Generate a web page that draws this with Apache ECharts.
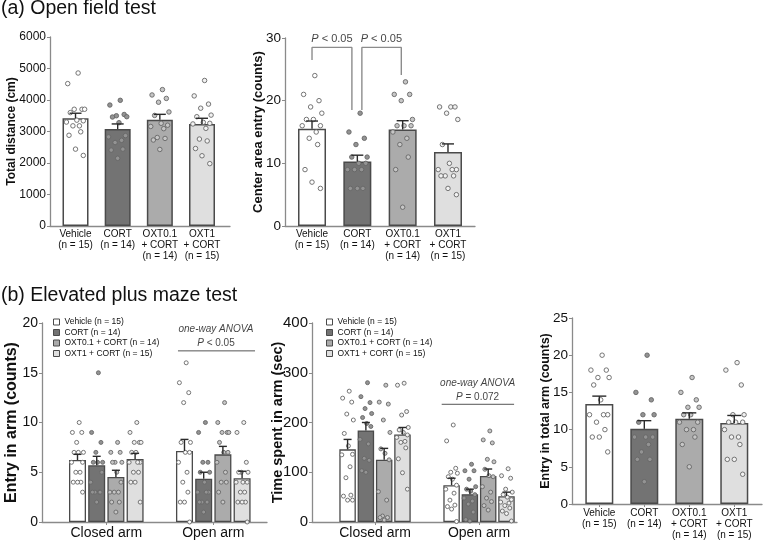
<!DOCTYPE html>
<html>
<head>
<meta charset="utf-8">
<script src="https://cdn.jsdelivr.net/npm/echarts@6/dist/echarts.min.js"></script>
<style>
  html, body { margin: 0; padding: 0; background: #fff; }
  #main { width: 764px; height: 541px; }
</style>
</head>
<body>
<div id="main"></div>
<script>
// Group / axis labels
const groupLabels = ["Vehicle\n(n = 15)", "CORT\n(n = 14)", "OXT0.1\n+ CORT\n(n = 14)", "OXT1\n+ CORT\n(n = 15)"];
const legendNames = ["Vehicle (n = 15)", "CORT (n = 14)", "OXT0.1 + CORT (n = 14)", "OXT1 + CORT (n = 15)"];
const armLabels = ["Closed arm", "Open arm"];

// (a) Open field test
const distMean = [3420, 3080, 3375, 3240];
const distSem = [160, 160, 170, 180];
const distDots = [
  [4857, 4520, 3706, 3706, 3706, 3600, 3360, 3340, 3300, 3180, 3180, 2990, 2880, 2440, 2240],
  [3990, 3840, 3540, 3500, 3470, 3460, 3280, 2870, 2830, 2720, 2650, 2440, 2410, 2150],
  [4330, 4160, 4050, 3930, 3620, 3510, 3260, 3200, 3160, 3090, 2810, 2780, 2730, 2430],
  [4620, 4130, 3870, 3740, 3520, 3470, 3290, 3260, 3240, 3100, 2760, 2700, 2460, 2230, 1980],
];
const centerMean = [15.5, 10.3, 15.4, 11.8];
const centerSem = [1.25, 1.0, 1.4, 1.3];
const centerDots = [
  [24, 21, 20, 19, 18, 17, 17, 16, 16, 15, 14, 13, 9, 7, 6],
  [18, 15, 14, 13, 11, 11, 10, 10, 9, 9, 9, 6, 6, 6],
  [23, 21, 21, 20, 17, 16, 16, 16, 15, 14, 13, 11, 9, 3],
  [19, 19, 19, 18, 17, 13, 10, 9, 9, 9, 8, 8, 8, 6, 5],
];

// (b) Elevated plus maze test
const entryClosedMean = [6.23, 5.7, 4.52, 6.33];
const entryOpenMean = [7.13, 4.35, 6.8, 4.4];
const entryClosedSem = [0.57, 0.9, 0.68, 0.57];
const entryOpenSem = [1.17, 0.65, 0.8, 0.7];
const entryClosedDots = [
  [10, 9, 9, 8, 7, 7, 7, 6, 6, 5, 5, 4, 4, 4, 3],
  [15, 9, 8, 7, 6, 6, 6, 5, 4, 3, 3, 3, 3, 2],
  [8, 7, 7, 6, 6, 6, 5, 4, 3, 3, 3, 2, 2, 1],
  [10, 9, 8, 8, 8, 7, 7, 6, 6, 6, 5, 5, 4, 4, 2],
];
const entryOpenDots = [
  [16, 14, 13, 12, 8, 8, 7, 7, 6, 5, 4, 3, 2, 2, 0],
  [10, 9, 6, 6, 5, 5, 4, 3, 3, 3, 2, 2, 2, 1],
  [12, 10, 9, 9, 9, 8, 7, 7, 6, 5, 4, 4, 3, 2],
  [10, 9, 6, 5, 5, 5, 4, 4, 4, 3, 3, 2, 2, 2, 0],
];
const timeClosedMean = [146, 184, 125, 176];
const timeOpenMean = [74, 56, 92.5, 52];
const timeClosedSem = [20, 16, 23, 14];
const timeOpenSem = [14, 10, 14, 8];
const timeClosedDots = [
  [263, 249, 241, 217, 205, 178, 153, 136, 135, 111, 89, 54, 52, 44, 44],
  [280, 252, 240, 228, 218, 210, 198, 192, 166, 157, 128, 124, 103, 100],
  [275, 241, 237, 205, 180, 147, 138, 125, 61, 44, 12, 9, 9, 4],
  [279, 275, 222, 215, 190, 185, 180, 175, 170, 162, 160, 149, 127, 99, 66],
];
const timeOpenDots = [
  [195, 163, 108, 100, 98, 91, 86, 74, 66, 58, 44, 34, 31, 26, 1],
  [116, 103, 103, 86, 71, 66, 62, 55, 48, 42, 36, 20, 5, 2],
  [183, 165, 159, 126, 121, 106, 93, 91, 71, 60, 48, 41, 33, 24],
  [107, 93, 88, 66, 60, 55, 50, 45, 40, 38, 33, 28, 22, 17, 2],
];
const totalMean = [13.45, 10.1, 11.45, 10.9];
const totalSem = [1.05, 1.1, 0.8, 1.0];
const totalDots = [
  [20, 18, 18, 17, 17, 16, 14, 12, 12, 12, 11, 10, 9, 9, 7],
  [20, 15, 14, 12, 12, 11, 9, 9, 9, 8, 7, 6, 6, 3],
  [17, 15, 14, 13, 13, 12, 12, 11, 11, 10, 10, 9, 8, 5],
  [19, 18, 16, 12, 12, 11, 11, 11, 10, 9, 9, 8, 6, 6, 4],
];

// Styling
const FONT = '"Liberation Sans", Arial, sans-serif';
const fills = ["#ffffff", "#737373", "#ababab", "#dfdfdf"];
const dotFills = ["#ffffff", "#939393", "#c6c6c6", "#f2f2f2"];
const edge = "#4a4a4a";
const axisGrey = "#8a8a8a";
// horizontal spread of dots, as a fraction of bar width
const jitter = [0.1, -0.3, 0.25, -0.05, 0.35, -0.2, 0.05, 0.3, -0.35, 0.15, -0.1, 0.2, -0.25, 0, 0.3];

// Panel layout
const layout = [
  { grid: { left: 50, top: 37, width: 180, height: 189 }, xMin: -0.605, xMax: 3.664, yMax: 6000, step: 1000,
    yName: "Total distance (cm)", nameSize: 12, nameGap: 32, tickSize: 12, barW: 26, cap: 12, dot: 4.5,
    ticks: false, centers: [0, 1, 2, 3], labels: groupLabels, xLabelSize: 10, xMargin: 3 },
  { grid: { left: 285, top: 38, width: 190, height: 188 }, xMin: -0.596, xMax: 3.596, yMax: 30, step: 10,
    yName: "Center area entry (counts)", nameSize: 13, nameGap: 20, tickSize: 13.5, barW: 28, cap: 12, dot: 4.5,
    ticks: false, centers: [0, 1, 2, 3], labels: groupLabels, xLabelSize: 10, xMargin: 3 },
  { grid: { left: 42, top: 323, width: 225, height: 199 }, xMin: -0.601, xMax: 1.502, yMax: 20, step: 5,
    yName: "Entry in arm (counts)", nameSize: 16, nameGap: 22, tickSize: 14, barW: 17, pitch: 19.2, cap: 8, dot: 4,
    ticks: true, centers: [0, 1], labels: armLabels, xLabelSize: 14, xMargin: 4 },
  { grid: { left: 312, top: 323, width: 205, height: 199 }, xMin: -0.606, xMax: 1.365, yMax: 400, step: 100,
    yName: "Time spent in arm (sec)", nameSize: 14.5, nameGap: 27, tickSize: 15, barW: 16.5, pitch: 18.3, cap: 8, dot: 4,
    ticks: true, centers: [0, 1], labels: armLabels, xLabelSize: 14, xMargin: 4 },
  { grid: { left: 572, top: 318, width: 190, height: 188 }, xMin: -0.607, xMax: 3.616, yMax: 25, step: 5,
    yName: "Entry in total arm (counts)", nameSize: 12.5, nameGap: 20, tickSize: 13.5, barW: 28, cap: 14, dot: 4.5,
    ticks: true, centers: [0, 1, 2, 3], labels: groupLabels, xLabelSize: 10, xMargin: 4 },
];

const grids = [];
const xAxes = [];
const yAxes = [];
const series = [];

layout.forEach((p, gi) => {
  grids.push(p.grid);
  xAxes.push({
    type: "value", gridIndex: gi, min: p.xMin, max: p.xMax,
    axisLine: { show: true, onZero: false, lineStyle: { color: axisGrey, width: 1.3 } },
    axisTick: { show: p.ticks, customValues: p.centers, length: 3, lineStyle: { color: axisGrey } },
    axisLabel: {
      customValues: p.centers,
      formatter: (v) => p.labels[Math.round(v)],
      color: "#111", fontSize: p.xLabelSize, lineHeight: p.xLabelSize + 1, margin: p.xMargin,
    },
    splitLine: { show: false },
  });
  yAxes.push({
    type: "value", gridIndex: gi, min: 0, max: p.yMax, interval: p.step,
    axisLine: { show: true, onZero: false, lineStyle: { color: axisGrey, width: 1.3 } },
    axisTick: { show: true, length: 3, lineStyle: { color: axisGrey } },
    axisLabel: { color: "#111", fontSize: p.tickSize, margin: 4, formatter: (v) => String(v) },
    splitLine: { show: false },
    name: p.yName, nameLocation: "middle", nameGap: p.nameGap, nameMoveOverlap: false,
    nameTextStyle: { fontSize: p.nameSize, fontWeight: "bold", color: "#111" },
  });
});

const unit = (p) => p.grid.width / (p.xMax - p.xMin);

// Error bars: upward line with a cap
function errSeries(gi, points, cap) {
  return {
    type: "custom", xAxisIndex: gi, yAxisIndex: gi, z: 4, silent: true,
    data: points,
    encode: { x: 0, y: [1, 2] },
    renderItem: (params, api) => {
      const p0 = api.coord([api.value(0), api.value(1)]);
      const p1 = api.coord([api.value(0), api.value(2)]);
      const style = { stroke: "#2a2a2a", lineWidth: 1.4 };
      return {
        type: "group",
        children: [
          { type: "line", shape: { x1: p0[0], y1: p0[1], x2: p1[0], y2: p1[1] }, style },
          { type: "line", shape: { x1: p1[0] - cap / 2, y1: p1[1], x2: p1[0] + cap / 2, y2: p1[1] }, style },
        ],
      };
    },
  };
}

function dotSeries(gi, pts, size) {
  return {
    type: "scatter", xAxisIndex: gi, yAxisIndex: gi, z: 3, silent: true,
    symbolSize: size, data: pts,
    itemStyle: { borderColor: "#666", borderWidth: 0.9, opacity: 1 },
  };
}

// Four bars, one per group (panels a-left, a-right, b-right)
function addGroupPanel(gi, means, sems, dots) {
  const p = layout[gi];
  const u = unit(p);
  series.push({
    type: "bar", xAxisIndex: gi, yAxisIndex: gi, barWidth: p.barW, z: 2,
    itemStyle: { borderColor: edge, borderWidth: 1.5 },
    data: means.map((m, i) => ({ value: [i, m], itemStyle: { color: fills[i] } })),
  });
  const pts = [];
  dots.forEach((arr, i) => {
    arr.forEach((v, j) => {
      pts.push({ value: [i + (jitter[j % jitter.length] * p.barW) / u, v], itemStyle: { color: dotFills[i] } });
    });
  });
  series.push(dotSeries(gi, pts, p.dot));
  series.push(errSeries(gi, means.map((m, i) => [i, m, m + sems[i]]), p.cap));
}

// Closed / open arm panels: one bar series per group
function addArmPanel(gi, cMean, oMean, cSem, oSem, cDots, oDots) {
  const p = layout[gi];
  const u = unit(p);
  const errPts = [];
  const pts = [];
  for (let k = 0; k < 4; k++) {
    const off = ((k - 1.5) * p.pitch) / u;
    series.push({
      name: legendNames[k], type: "bar", xAxisIndex: gi, yAxisIndex: gi,
      barWidth: p.barW, barGap: "-100%", z: 2,
      itemStyle: { color: fills[k], borderColor: edge, borderWidth: 1.3 },
      data: [[off, cMean[k]], [1 + off, oMean[k]]],
    });
    errPts.push([off, cMean[k], cMean[k] + cSem[k]]);
    errPts.push([1 + off, oMean[k], oMean[k] + oSem[k]]);
    [cDots[k], oDots[k]].forEach((arr, arm) => {
      arr.forEach((v, j) => {
        pts.push({
          value: [arm + off + (jitter[j % jitter.length] * p.barW) / u, v],
          itemStyle: { color: dotFills[k] },
        });
      });
    });
  }
  series.push(dotSeries(gi, pts, p.dot));
  series.push(errSeries(gi, errPts, p.cap));
}

function addText(gi, x, y, text, size) {
  series.push({
    type: "scatter", xAxisIndex: gi, yAxisIndex: gi, z: 5, silent: true,
    symbolSize: 1, itemStyle: { color: "rgba(0,0,0,0)" },
    data: [[x, y]],
    label: {
      show: true, position: "inside", formatter: text,
      color: "#111", fontSize: size, lineHeight: size + 4,
      rich: { i: { fontStyle: "italic", fontSize: size, lineHeight: size + 4, color: "#111" } },
    },
  });
}

function addLine(gi, pts, color, width) {
  series.push({
    type: "line", xAxisIndex: gi, yAxisIndex: gi, z: 5, silent: true,
    data: pts, symbol: "none", lineStyle: { color: color, width: width },
  });
}

addGroupPanel(0, distMean, distSem, distDots);
addGroupPanel(1, centerMean, centerSem, centerDots);
addArmPanel(2, entryClosedMean, entryOpenMean, entryClosedSem, entryOpenSem, entryClosedDots, entryOpenDots);
addArmPanel(3, timeClosedMean, timeOpenMean, timeClosedSem, timeOpenSem, timeClosedDots, timeOpenDots);
addGroupPanel(4, totalMean, totalSem, totalDots);

// Significance brackets (center area entry)
addLine(1, [[0, 26.5], [0, 28.5], [0.88, 28.5], [0.88, 18.5]], "#8c8c8c", 1.4);
addLine(1, [[1.1, 18.5], [1.1, 28.5], [1.97, 28.5], [1.97, 24.1]], "#8c8c8c", 1.4);
addText(1, 0.44, 29.8, "{i|P} < 0.05", 11);
addText(1, 1.53, 29.8, "{i|P} < 0.05", 11);

// ANOVA annotations
addLine(2, [[0.67, 17.2], [1.39, 17.2]], "#555", 1);
addText(2, 1.025, 18.64, "{i|one-way ANOVA}\n{i|P} < 0.05", 10);
addLine(3, [[0.641, 236.6], [1.337, 236.6]], "#555", 1);
addText(3, 0.986, 265.3, "{i|one-way ANOVA}\n{i|P} = 0.072", 10);

const legendBase = {
  data: legendNames, orient: "vertical", top: 317.5, itemWidth: 6, itemHeight: 6, itemGap: 1.5,
  padding: 0, selectedMode: false, icon: "rect",
  itemStyle: { borderWidth: 1 },
  textStyle: { fontSize: 8.5, color: "#111", fontFamily: FONT },
};

const option = {
  animation: false,
  backgroundColor: "#fff",
  textStyle: { fontFamily: FONT },
  title: [
    { text: "(a) Open field test", left: 1, top: -1, padding: 0,
      textStyle: { fontSize: 19.5, fontWeight: "normal", color: "#111", fontFamily: FONT } },
    { text: "(b) Elevated plus maze test", left: 1, top: 286, padding: 0,
      textStyle: { fontSize: 19.5, fontWeight: "normal", color: "#111", fontFamily: FONT } },
  ],
  legend: [
    Object.assign({}, legendBase, { left: 53 }),
    Object.assign({}, legendBase, { left: 326 }),
  ],
  grid: grids,
  xAxis: xAxes,
  yAxis: yAxes,
  series: series,
};

const chart = echarts.init(document.getElementById("main"));
chart.setOption(option);
window.addEventListener("resize", () => chart.resize());
</script>
</body>
</html>
